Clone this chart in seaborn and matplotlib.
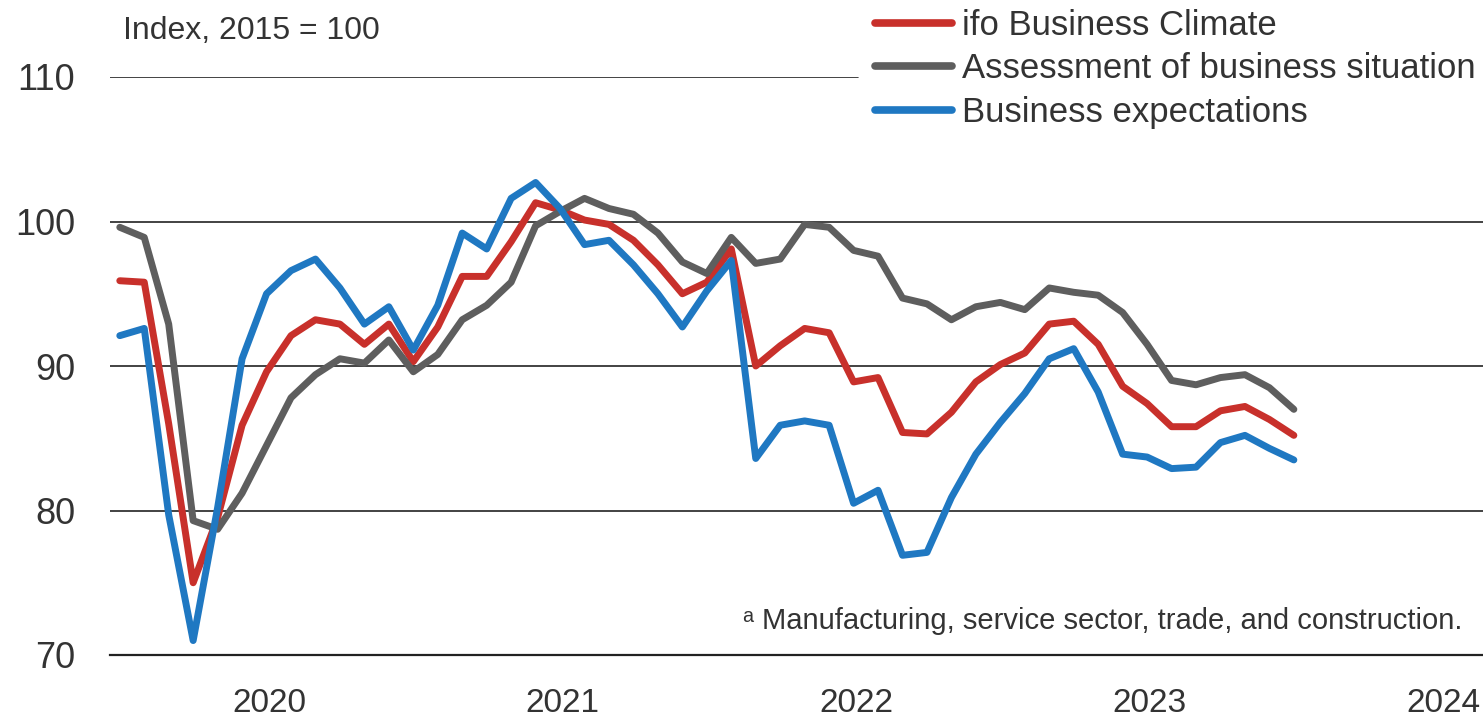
import numpy as np
import pandas as pd
import matplotlib
matplotlib.use("Agg")
import matplotlib.pyplot as plt
import seaborn as sns

# ==========================================
# Data (ifo, index 2015 = 100, Jan 2020 - Jan 2024)
# ==========================================

climate = [
    95.9, 95.8, 86.0, 75.0, 79.5, 85.9, 89.6, 92.1, 93.2, 92.9, 91.5, 92.9,
    90.3, 92.7, 96.2, 96.2, 98.6, 101.3, 100.8, 100.1, 99.8, 98.7, 97.0, 95.0,
    95.8, 98.1, 90.0, 91.4, 92.6, 92.3, 88.9, 89.2, 85.4, 85.3, 86.8, 88.9,
    90.1, 90.9, 92.9, 93.1, 91.5, 88.6, 87.4, 85.8, 85.8, 86.9, 87.2, 86.3,
    85.2,
]
situation = [
    99.6, 98.9, 92.9, 79.3, 78.7, 81.2, 84.5, 87.8, 89.4, 90.5, 90.2, 91.8,
    89.6, 90.8, 93.2, 94.2, 95.8, 99.7, 100.7, 101.6, 100.9, 100.5, 99.2, 97.2,
    96.4, 98.9, 97.1, 97.4, 99.8, 99.6, 98.0, 97.6, 94.7, 94.3, 93.2, 94.1,
    94.4, 93.9, 95.4, 95.1, 94.9, 93.7, 91.5, 89.0, 88.7, 89.2, 89.4, 88.5,
    87.0,
]
expectations = [
    92.1, 92.6, 79.7, 71.0, 80.2, 90.5, 95.0, 96.6, 97.4, 95.4, 92.9, 94.1,
    91.1, 94.2, 99.2, 98.1, 101.6, 102.7, 100.9, 98.4, 98.7, 97.0, 95.0, 92.7,
    95.2, 97.3, 83.6, 85.9, 86.2, 85.9, 80.5, 81.4, 76.9, 77.1, 80.9, 83.9,
    86.1, 88.1, 90.5, 91.2, 88.2, 83.9, 83.7, 82.9, 83.0, 84.7, 85.2, 84.3,
    83.5,
]

series_names = [
    "ifo Business Climate",
    "Assessment of business situation",
    "Business expectations",
]
series_colors = ["#C8302B", "#5E5E5E", "#1F78C2"]

years = ["2020", "2021", "2022", "2023", "2024"]
y_ticks = [70, 80, 90, 100, 110]

# months since Jan 2020, plotted mid-month
month = np.arange(len(climate)) + 0.4

df = pd.DataFrame({
    "month": np.tile(month, 3),
    "value": climate + situation + expectations,
    "series": np.repeat(series_names, len(month)),
})

# ==========================================
# Plot
# ==========================================

sns.set_style("white")
plt.rcParams["font.family"] = ["Liberation Sans", "DejaVu Sans"]

fig = plt.figure(figsize=(14.83, 7.21), dpi=100)
ax = fig.add_axes([110 / 1483, 1 - 655 / 721, 1373 / 1483, 578 / 721])

for yv in y_ticks[1:-1]:
    ax.axhline(yv, color="#222222", lw=1.2, zorder=1)
ax.axhline(110, xmax=0.545, color="#222222", lw=1.2, zorder=1)

sns.lineplot(
    data=df,
    x="month",
    y="value",
    hue="series",
    hue_order=series_names,
    palette=series_colors,
    linewidth=5,
    ax=ax,
    zorder=3,
)

ax.set_xlim(0, 1373 / 24.46)
ax.set_ylim(70, 110)

ax.set_yticks(y_ticks)
ax.set_yticklabels([str(v) for v in y_ticks], fontsize=26, color="#333333")
ax.tick_params(axis="y", length=0, pad=25)

# year boundaries as ticks, year names between them
ax.set_xticks([0, 12, 24, 36, 48])
ax.set_xticklabels([])
ax.set_xticks([6.5, 18.5, 30.5, 42.5, 54.5], minor=True)
ax.set_xticklabels(years, minor=True, fontsize=24, color="#333333")
ax.tick_params(axis="x", which="major", length=11, width=1.5, color="#222222", direction="out")
ax.tick_params(axis="x", which="minor", length=0, pad=24)

ax.set_xlabel("")
ax.set_ylabel("")

for side in ["left", "right", "top"]:
    ax.spines[side].set_visible(False)
ax.spines["bottom"].set_color("#222222")
ax.spines["bottom"].set_linewidth(1.6)

handles, labels = ax.get_legend_handles_labels()
ax.legend_.remove()
for h in handles:
    h.set_linewidth(5.5)
fig.legend(
    handles,
    labels,
    loc="upper left",
    bbox_to_anchor=(858 / 1483, 1.012),
    frameon=False,
    fontsize=25,
    handlelength=2.2,
    handletextpad=0.3,
    labelspacing=0.31,
    borderpad=0,
    labelcolor="#333333",
)

fig.text(123 / 1483, 1 - 31 / 721, "Index, 2015 = 100", fontsize=23,
         color="#333333", va="center", ha="left")
fig.text(1462 / 1483, 1 - 621 / 721,
         "ᵃ Manufacturing, service sector, trade, and construction.",
         fontsize=21, color="#333333", va="center", ha="right")

fig.savefig("out.png", dpi=100)
